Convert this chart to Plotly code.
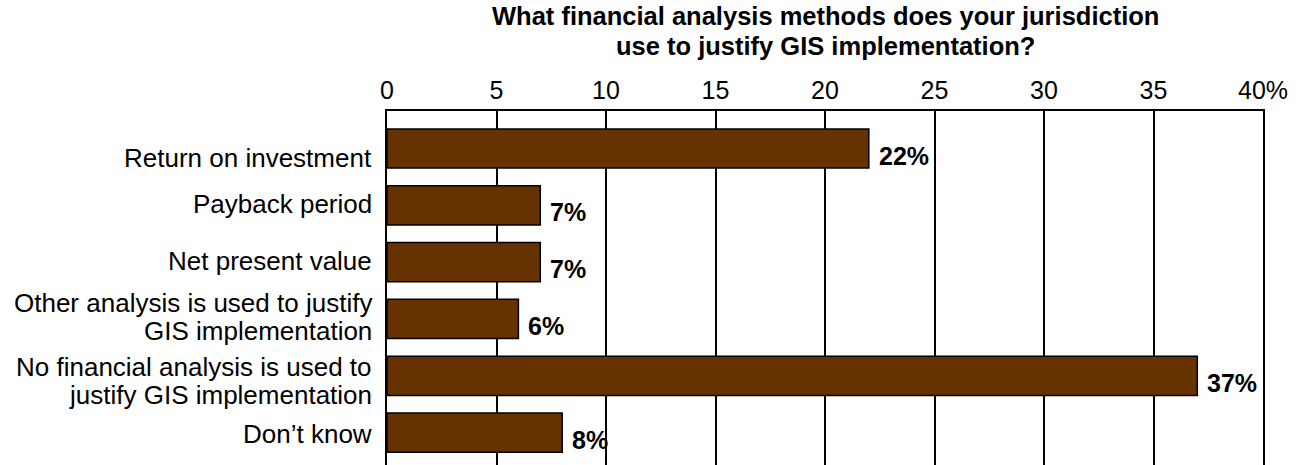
import plotly.graph_objects as go

# Survey responses (percent of jurisdictions)
categories = [
    "Return on investment",
    "Payback period",
    "Net present value",
    "Other analysis is used to justify\nGIS implementation",
    "No financial analysis is used to\njustify GIS implementation",
    "Don\u2019t know",
]
values = [22, 7, 7, 6, 37, 8]
tick_values = [0, 5, 10, 15, 20, 25, 30, 35, 40]
tick_labels = ["0", "5", "10", "15", "20", "25", "30", "35", "40%"]
title_lines = [
    "What financial analysis methods does your jurisdiction",
    "use to justify GIS implementation?",
]

FONT = "Liberation Sans, Arial, sans-serif"
BAR_COLOR = "#663300"

# small vertical nudges (px, positive = down) for the category labels
label_nudge = [9, -1.5, -1.5, -2, 5.5, 1.5]

positions = list(range(len(categories)))

fig = go.Figure()
fig.add_trace(go.Bar(
    x=values,
    y=positions,
    orientation="h",
    width=0.69,
    marker=dict(color=BAR_COLOR, line=dict(color="#000000", width=1.5)),
    hoverinfo="skip",
))

annotations = []
# value labels to the right of each bar
for pos, v in zip(positions, values):
    annotations.append(dict(
        x=v, y=pos, xref="x", yref="y",
        text=f"<b>{v}%</b>", showarrow=False,
        xanchor="left", yanchor="middle", xshift=8, yshift=-7,
        font=dict(family=FONT, size=25, color="#000000"),
    ))

# category labels, one annotation per line for tight line spacing
line_gap = 28
for pos, label, nudge in zip(positions, categories, label_nudge):
    lines = label.split("\n")
    n = len(lines)
    for i, line in enumerate(lines):
        offset = ((n - 1) / 2 - i) * line_gap - nudge
        annotations.append(dict(
            x=0, y=pos, xref="paper", yref="y",
            text=line, showarrow=False,
            xanchor="right", yanchor="middle", xshift=-13, yshift=offset,
            font=dict(family=FONT, size=26, color="#000000"),
        ))

# two-line bold title centred over the plot area
title_shifts = [95, 65.5]
for line, shift in zip(title_lines, title_shifts):
    annotations.append(dict(
        x=0.5, y=1, xref="paper", yref="paper",
        text=f"<b>{line}</b>", showarrow=False,
        xanchor="center", yanchor="middle", yshift=shift,
        font=dict(family=FONT, size=25.5, color="#000000"),
    ))

fig.update_layout(
    width=1302,
    height=465,
    margin=dict(l=387, r=39, t=111, b=0),
    paper_bgcolor="#ffffff",
    plot_bgcolor="#ffffff",
    showlegend=False,
    bargap=0.31,
    xaxis=dict(
        side="top",
        range=[0, 40],
        tickvals=tick_values,
        ticktext=tick_labels,
        showgrid=True,
        gridcolor="#000000",
        gridwidth=1.5,
        showline=True,
        linecolor="#000000",
        linewidth=1.5,
        zeroline=False,
        ticks="",
        ticklabelstandoff=0,
        tickfont=dict(family=FONT, size=25, color="#000000"),
        fixedrange=True,
    ),
    yaxis=dict(
        range=[5.57, -0.66],
        showticklabels=False,
        showgrid=False,
        zeroline=False,
        showline=True,
        mirror=True,
        linecolor="#000000",
        linewidth=1.5,
        ticks="",
        fixedrange=True,
    ),
    annotations=annotations,
)

fig.write_html("out.html")
